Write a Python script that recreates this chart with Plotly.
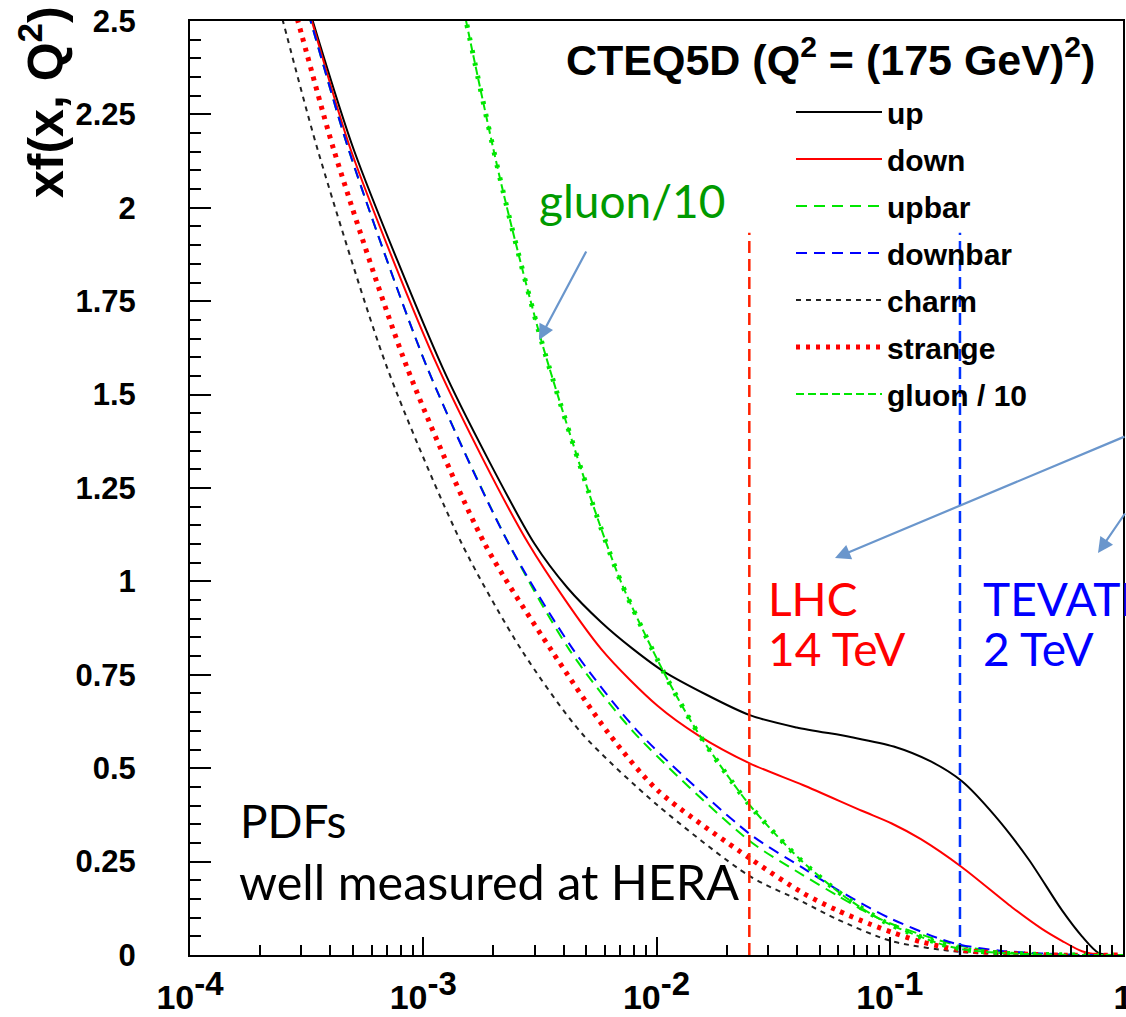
import plotly.graph_objects as go

# ---------------- data ----------------
UP_X = [2.82e-4, 3.37e-4, 5.06e-4, 1.21e-3, 1.90e-3, 2.99e-3, 4.15e-3, 5.81e-3, 7.89e-3, 1.08e-2, 2.51e-2, 3.99e-2, 6.87e-2, 0.104, 0.150, 0.204, 0.282, 0.395, 0.547, 0.667, 0.789, 1.0]
UP_Y = [2.66, 2.497, 2.152, 1.572, 1.326, 1.102, 0.983, 0.890, 0.820, 0.758, 0.642, 0.609, 0.583, 0.558, 0.518, 0.465, 0.373, 0.255, 0.120, 0.050, 0.005, 0.0]

DOWN_X = [2.79e-4, 3.34e-4, 4.91e-4, 1.16e-3, 2.82e-3, 5.81e-3, 1.01e-2, 1.51e-2, 2.51e-2, 4.24e-2, 7.59e-2, 0.102, 0.136, 0.204, 0.334, 0.449, 0.547, 0.667, 0.813, 1.0]
DOWN_Y = [2.66, 2.497, 2.152, 1.572, 1.102, 0.818, 0.667, 0.588, 0.513, 0.455, 0.386, 0.352, 0.310, 0.235, 0.128, 0.070, 0.038, 0.010, 0.0, 0.0]

UBAR_X = [2.76e-4, 3.30e-4, 4.81e-4, 1.04e-3, 2.32e-3, 4.24e-3, 8.05e-3, 2.51e-2, 4.24e-2, 5.93e-2, 8.2e-2, 0.102, 0.161, 0.202, 0.303, 0.667, 1.0]
UBAR_Y = [2.66, 2.497, 2.152, 1.572, 1.102, 0.816, 0.594, 0.305, 0.214, 0.160, 0.110, 0.083, 0.040, 0.024, 0.008, 0.0, 0.0]

DBAR_X = [2.76e-4, 3.30e-4, 4.81e-4, 1.04e-3, 2.32e-3, 4.41e-3, 8.45e-3, 2.51e-2, 4.24e-2, 5.93e-2, 8.2e-2, 0.102, 0.161, 0.202, 0.303, 0.667, 1.0]
DBAR_Y = [2.66, 2.497, 2.152, 1.572, 1.102, 0.816, 0.594, 0.324, 0.233, 0.176, 0.126, 0.096, 0.045, 0.027, 0.011, 0.0, 0.0]

CHARM_X = [2.14e-4, 2.51e-4, 3.54e-4, 7.0e-4, 1.46e-3, 2.64e-3, 4.77e-3, 1.01e-2, 2.51e-2, 4.24e-2, 5.93e-2, 0.102, 0.202, 0.496, 1.0]
CHARM_Y = [2.66, 2.497, 2.152, 1.572, 1.102, 0.816, 0.594, 0.401, 0.211, 0.142, 0.096, 0.037, 0.008, 0.0, 0.0]

STRANGE_X = [2.45e-4, 2.91e-4, 4.15e-4, 8.53e-4, 1.83e-3, 3.54e-3, 6.22e-3, 1.01e-2, 2.51e-2, 4.24e-2, 5.93e-2, 8.2e-2, 0.102, 0.137, 0.202, 0.496, 1.0]
STRANGE_Y = [2.66, 2.497, 2.152, 1.572, 1.102, 0.816, 0.594, 0.441, 0.259, 0.166, 0.120, 0.083, 0.061, 0.035, 0.013, 0.0, 0.0]

GLUON_X = [1.36e-3, 1.53e-3, 2.16e-3, 3.21e-3, 5.26e-3, 7.08e-3, 1.08e-2, 1.51e-2, 2.51e-2, 4.11e-2, 6.35e-2, 9.7e-2, 0.161, 0.202, 0.303, 0.667, 1.0]
GLUON_Y = [2.66, 2.497, 2.064, 1.644, 1.217, 0.995, 0.754, 0.594, 0.401, 0.257, 0.158, 0.086, 0.032, 0.016, 0.005, 0.0, 0.0]

LHC_X = 0.025
TEV_X = 0.2
VLINE_TOP = 1.933

X_TICKS = [1e-4, 1e-3, 1e-2, 1e-1, 1]
X_EXPONENTS = ["-4", "-3", "-2", "-1", None]
Y_TICKS = [0, 0.25, 0.5, 0.75, 1, 1.25, 1.5, 1.75, 2, 2.25, 2.5]
Y_TICKTEXT = ["0", "0.25", "0.5", "0.75", "1", "1.25", "1.5", "1.75", "2", "2.25", "2.5"]

# ---------------- layout geometry ----------------
W, H = 1126, 1017
L, R, T, B = 190, 3, 21, 62
PW, PH = W - L - R, H - T - B


def px(xp):
    return (xp - L) / PW


def py(yp):
    return (H - B - yp) / PH


GREEN = "#00e600"
SMOOTH = 0.75
fig = go.Figure()

series = [
    ("up", UP_X, UP_Y, dict(color="black", width=2)),
    ("down", DOWN_X, DOWN_Y, dict(color="#ff0000", width=2)),
    ("upbar", UBAR_X, UBAR_Y, dict(color=GREEN, width=2, dash="11px,7px")),
    ("downbar", DBAR_X, DBAR_Y, dict(color="#0000ff", width=2, dash="11px,7px")),
    ("charm", CHARM_X, CHARM_Y, dict(color="#222222", width=2, dash="5px,5px")),
    ("strange", STRANGE_X, STRANGE_Y, dict(color="#ff0000", width=5, dash="4px,6px")),
]
for i, (name, xs, ys, ln) in enumerate(series):
    fig.add_trace(go.Scatter(x=xs, y=ys, mode="lines", name=name,
                             line=dict(shape="spline", smoothing=SMOOTH, **ln), legendgroup=f"g{i}"))

fig.add_trace(go.Scatter(x=GLUON_X, y=GLUON_Y, mode="lines", name="gluon / 10", legendgroup="g6",
                         line=dict(shape="spline", smoothing=SMOOTH, color=GREEN, width=2, dash="8px,4px")))
fig.add_trace(go.Scatter(x=GLUON_X, y=GLUON_Y, mode="lines", showlegend=False, legendgroup="g6",
                         line=dict(shape="spline", smoothing=SMOOTH, color=GREEN, width=5, dash="3px,10px")))

# vertical collider lines
fig.add_trace(go.Scatter(x=[LHC_X, LHC_X], y=[0, VLINE_TOP], mode="lines", showlegend=False,
                         line=dict(color="#ff2200", width=2.5, dash="12px,6px")))
fig.add_trace(go.Scatter(x=[TEV_X, TEV_X], y=[0, VLINE_TOP], mode="lines", showlegend=False,
                         line=dict(color="#0033ff", width=2.5, dash="12px,6px")))

TXT = "Lato"
ann = []


def text(s, xp, yp, color, size, anchor="left", family=TXT, bold=False):
    ann.append(dict(text=s, x=px(xp), y=py(yp), xref="paper", yref="paper", showarrow=False,
                    xanchor=anchor, yanchor="middle",
                    font=dict(family=family, size=size, color=color, weight="bold" if bold else "normal")))


text("CTEQ5D (Q<sup>2</sup> = (175 GeV)<sup>2</sup>)", 564, 57, "black", 43, family="Liberation Sans", bold=True)
text("gluon/10", 537, 200, "#009a00", 46)
text("LHC", 766, 598, "#ff0000", 46)
text("14 TeV", 766, 648, "#ff0000", 46)
text("TEVATRON", 981, 598, "#0000ff", 46)
text("2 TeV", 981, 648, "#0000ff", 46)
text("PDFs", 238, 820, "black", 46)
text("well measured at HERA", 237, 881, "black", 48.5)

ann.append(dict(text="xf(x, Q<sup>2</sup>)", x=px(42), y=py(102), xref="paper", yref="paper", showarrow=False,
                textangle=-90, xanchor="center", yanchor="middle",
                font=dict(family="Liberation Sans", size=50, color="black", weight="bold")))

ARROW = "#6a96cc"
for (hx, hy, tx, ty) in [(539, 340, 587, 250), (835, 558, 1126, 436), (1098, 553, 1130, 512)]:
    ann.append(dict(text="", x=px(hx), y=py(hy), xref="paper", yref="paper", showarrow=True,
                    ax=tx - hx, ay=ty - hy, arrowhead=2, arrowsize=1.4, arrowwidth=2.2, arrowcolor=ARROW))

x_ticktext = [("10<sup><span style='font-size:33px'>%s</span></sup>" % e) if e else "1" for e in X_EXPONENTS]
minor_x = [k * 10 ** e for e in range(-4, 0) for k in range(2, 10)]
minor_y = [round(i * 0.05, 2) for i in range(0, 51)]

fig.update_layout(
    width=W, height=H, margin=dict(l=L, r=R, t=T, b=B, autoexpand=False),
    paper_bgcolor="white", plot_bgcolor="white",
    annotations=ann,
    showlegend=True,
    legend=dict(x=px(791), y=py(86), xanchor="left", yanchor="top", bgcolor="rgba(0,0,0,0)",
                font=dict(family="Liberation Sans", size=30, color="black", weight="bold"),
                itemwidth=86, tracegroupgap=5, traceorder="grouped"),
    xaxis=dict(type="log", range=[-4, 0], tickmode="array", tickvals=X_TICKS, ticktext=x_ticktext,
               ticks="inside", ticklen=18, tickwidth=1.5, tickcolor="black", automargin=False,
               showline=True, linecolor="black", linewidth=2, mirror=True, showgrid=False, zeroline=False,
               tickfont=dict(family="Liberation Sans", size=34, color="black", weight="bold"),
               ticklabelstandoff=11, ticklabeloverflow="allow",
               minor=dict(tickvals=minor_x, ticks="inside", ticklen=10, tickwidth=1.5, tickcolor="black", showgrid=False)),
    yaxis=dict(range=[0, 2.5], tickmode="array", tickvals=Y_TICKS, ticktext=Y_TICKTEXT,
               ticks="inside", ticklen=21, tickwidth=1.5, tickcolor="black", automargin=False,
               showline=True, linecolor="black", linewidth=2, mirror=True, showgrid=False, zeroline=False,
               tickfont=dict(family="Liberation Sans", size=31, color="black", weight="bold"),
               ticklabelstandoff=46,
               minor=dict(tickvals=minor_y, ticks="inside", ticklen=11, tickwidth=1.5, tickcolor="black", showgrid=False)),
)

fig.write_html("out.html")
